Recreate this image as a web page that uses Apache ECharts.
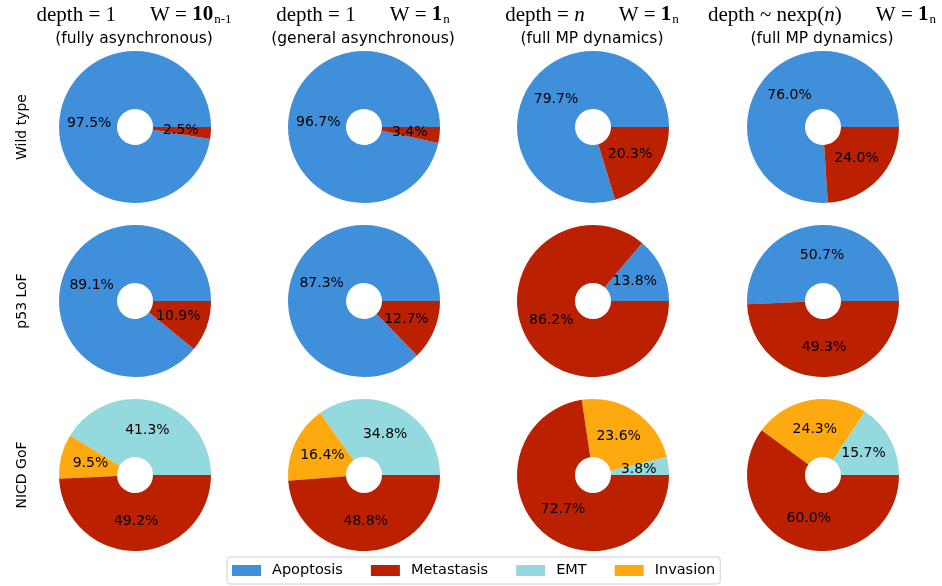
<!DOCTYPE html>
<html><head><meta charset="utf-8">
<script src="https://cdn.jsdelivr.net/npm/echarts@6/dist/echarts.min.js"></script>
<style>html,body{margin:0;padding:0;background:#fff}#c{width:942px;height:586px}</style>
</head><body><div id="c"></div>
<script>
const categories = ['Apoptosis', 'Metastasis', 'EMT', 'Invasion'];
const drawOrder = ['Apoptosis', 'EMT', 'Invasion', 'Metastasis'];
const rowLabels = ['Wild type', 'p53 LoF', 'NICD GoF'];
const colSubtitles = ['(fully asynchronous)', '(general asynchronous)', '(full MP dynamics)', '(full MP dynamics)'];
// values per row, per column
const apoptosis = [[97.5, 96.7, 79.7, 76.0], [89.1, 87.3, 13.8, 50.7], [0, 0, 0, 0]];
const metastasis = [[2.5, 3.4, 20.3, 24.0], [10.9, 12.7, 86.2, 49.3], [49.2, 48.8, 72.7, 60.0]];
const emt = [[0, 0, 0, 0], [0, 0, 0, 0], [41.3, 34.8, 3.8, 15.7]];
const invasion = [[0, 0, 0, 0], [0, 0, 0, 0], [9.5, 16.4, 23.6, 24.3]];

const colors = {Apoptosis: '#3f8fdb', Metastasis: '#bb2000', EMT: '#93d9de', Invasion: '#fea910'};
const colX = [135, 364, 593, 823];
const rowY = [127, 301, 475];
const valuesOf = {Apoptosis: apoptosis, Metastasis: metastasis, EMT: emt, Invasion: invasion};

const titleTexts = [
  '{m|depth = 1}{g| }{m|W = }{b|10}{s|n-1}',
  '{m|depth = 1}{g| }{m|W = }{b|1}{s|n}',
  '{m|depth = }{i|n}{g| }{m|W = }{b|1}{s|n}',
  '{m|depth ~ nexp(}{i|n}{m|)}{g| }{m|W = }{b|1}{s|n}'
];
const base = {fontFamily: 'Liberation Serif', fontSize: 21, color: '#000', lineHeight: 22, fontWeight: 'normal'};
const rich = {
  m: Object.assign({}, base),
  i: Object.assign({}, base, {fontStyle: 'italic'}),
  b: Object.assign({}, base, {fontWeight: 'bold'}),
  g: Object.assign({}, base, {width: 34}),
  s: Object.assign({}, base, {fontSize: 13, verticalAlign: 'bottom', padding: [0, 0, 0, 1]})
};

const titles = colX.map((x, c) => ({
  text: titleTexts[c],
  left: x - 6, top: -1, textAlign: 'center',
  textStyle: {fontWeight: 'normal', rich: rich}
})).concat(colX.map((x, c) => ({
  text: colSubtitles[c],
  left: x - 6, top: 26, textAlign: 'center',
  textStyle: {fontFamily: 'DejaVu Sans', fontSize: 15.5, color: '#000', fontWeight: 'normal'}
})));

const series = [];
rowY.forEach((y, r) => {
  colX.forEach((x, c) => {
    const data = drawOrder
      .filter(n => valuesOf[n][r][c] > 0)
      .map(n => ({name: n, value: valuesOf[n][r][c], itemStyle: {color: colors[n]}}));
    series.push({
      type: 'pie', center: [x, y], radius: [18, 76], startAngle: 0, clockwise: false,
      silent: true, animation: false,
      label: {show: false}, labelLine: {show: false},
      itemStyle: {borderWidth: 0},
      data: data
    });
    // label layer (transparent) to place percentages at ~0.6 of the radius
    series.push({
      type: 'pie', center: [x, y], radius: [10, 76], startAngle: 0, clockwise: false,
      silent: true, animation: false, legendHoverLink: false,
      label: {position: 'inside', color: '#000', fontFamily: 'DejaVu Sans', fontSize: 14,
        formatter: p => p.value.toFixed(1) + '%'},
      labelLine: {show: false},
      itemStyle: {color: 'rgba(0,0,0,0)', borderWidth: 0},
      data: data.map(d => ({name: d.name, value: d.value, itemStyle: {color: 'rgba(0,0,0,0)'}}))
    });
  });
});

const graphics = rowLabels.map((t, r) => ({
  type: 'text', x: 22, y: rowY[r], rotation: Math.PI / 2,
  style: {text: t, fontFamily: 'DejaVu Sans', fontSize: 14, fill: '#000', align: 'center', verticalAlign: 'middle'}
}));

const chart = echarts.init(document.getElementById('c'), null, {renderer: 'canvas'});
chart.setOption({
  animation: false,
  color: categories.map(n => colors[n]),
  title: titles,
  graphic: graphics,
  legend: {
    data: categories.map(n => ({name: n, itemStyle: {color: colors[n]}})),
    left: 227, bottom: 2, itemWidth: 29, itemHeight: 11, itemGap: 28,
    borderColor: '#d0d0d0', borderWidth: 1, borderRadius: 3, padding: [6, 5, 6, 5],
    textStyle: {fontFamily: 'DejaVu Sans', fontSize: 14.5, color: '#000', padding: [0, 0, 0, 6]},
    selectedMode: false, icon: 'rect'
  },
  series: series
});
</script></body></html>
